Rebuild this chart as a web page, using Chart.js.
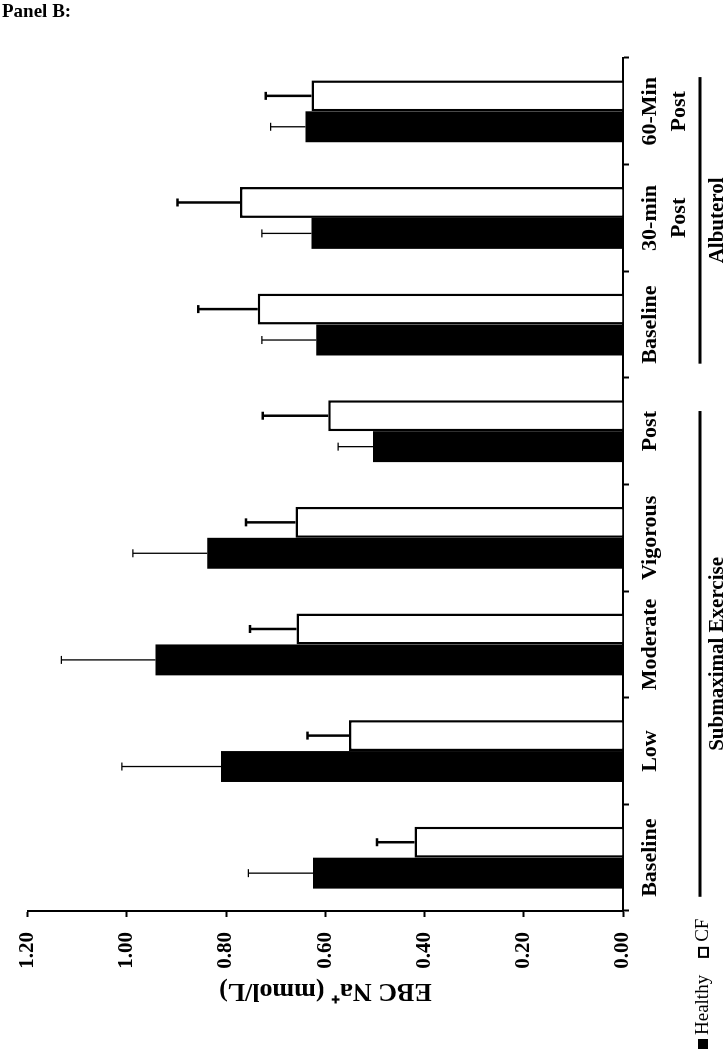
<!DOCTYPE html>
<html>
<head>
<meta charset="utf-8">
<script src="https://cdn.jsdelivr.net/npm/chart.js@4.4.0/dist/chart.umd.min.js"></script>
<style>
  html, body { margin: 0; padding: 0; background: #fff; }
  body { width: 726px; height: 1050px; position: relative; overflow: hidden; }
  #panel { position: absolute; left: 2px; top: 0px; font: bold 19px 'Liberation Serif', 'Times New Roman', serif; color: #000; }
  /* the chart is drawn upright and then turned a quarter turn to the left */
  #wrap { position: absolute; left: 0; top: 0; width: 1050px; height: 726px;
          transform-origin: 0 0; transform: translate(0, 1050px) rotate(-90deg); }
</style>
</head>
<body>
<div id="wrap"><canvas id="chart" width="1050" height="726"></canvas></div>
<div id="panel">Panel B:</div>
<script>
// Data
const categories = ['Baseline', 'Low', 'Moderate', 'Vigorous', 'Post', 'Baseline', ['30-min', 'Post'], ['60-Min', 'Post']];
const healthy = [0.625, 0.81, 0.942, 0.838, 0.504, 0.618, 0.628, 0.64];
const healthyErr = [0.13, 0.20, 0.19, 0.15, 0.07, 0.11, 0.10, 0.07];
const cf = [0.42, 0.552, 0.658, 0.66, 0.594, 0.736, 0.772, 0.628];
const cfErr = [0.076, 0.084, 0.094, 0.10, 0.132, 0.12, 0.126, 0.092];
const yTicks = [0, 0.2, 0.4, 0.6, 0.8, 1.0, 1.2];
const groupNames = ['Submaximal Exercise', 'Albuterol'];
const groupFirst = [0, 5];
const groupLast = [4, 7];
const seriesNames = ['Healthy', 'CF'];
const yTitle = 'EBC Na\u207A (mmol/L)';

const serif = "'Liberation Serif', 'Times New Roman', serif";

// Error bars (upper only)
const errorBars = {
  id: 'errorBars',
  afterDatasetsDraw(chart) {
    const ctx = chart.ctx;
    const yScale = chart.scales.y;
    chart.data.datasets.forEach((ds, di) => {
      const meta = chart.getDatasetMeta(di);
      meta.data.forEach((bar, i) => {
        const top = yScale.getPixelForValue(ds.data[i] + ds.errors[i]);
        ctx.save();
        ctx.strokeStyle = '#000';
        ctx.lineWidth = ds.errWidth;
        ctx.beginPath();
        ctx.moveTo(bar.x, bar.y);
        ctx.lineTo(bar.x, top);
        ctx.moveTo(bar.x - 4, top);
        ctx.lineTo(bar.x + 4, top);
        ctx.stroke();
        ctx.restore();
      });
    });
  }
};

// Group brackets under the category labels, and the small legend
const extras = {
  id: 'extras',
  afterDraw(chart) {
    const ctx = chart.ctx;
    const xScale = chart.scales.x;
    ctx.save();
    ctx.fillStyle = '#000';
    ctx.strokeStyle = '#000';

    // width of a category label (widest line)
    ctx.font = 'bold 22px ' + serif;
    const labelWidth = (i) => {
      const lines = [].concat(categories[i]);
      return Math.max(...lines.map(l => ctx.measureText(l).width));
    };

    groupNames.forEach((name, g) => {
      ctx.font = 'bold 22px ' + serif;
      const x0 = xScale.getPixelForValue(groupFirst[g]) - labelWidth(groupFirst[g]) / 2;
      const x1 = xScale.getPixelForValue(groupLast[g]) + labelWidth(groupLast[g]) / 2;
      ctx.lineWidth = 3;
      ctx.beginPath();
      ctx.moveTo(x0, 700);
      ctx.lineTo(x1, 700);
      ctx.stroke();
      ctx.font = 'bold 21px ' + serif;
      ctx.textAlign = 'center';
      ctx.textBaseline = 'alphabetic';
      ctx.fillText(name, (x0 + x1) / 2, 723);
    });

    // legend
    ctx.font = '19px ' + serif;
    ctx.textAlign = 'left';
    ctx.textBaseline = 'middle';
    let x = 1;
    const ly = 703;
    ctx.fillRect(x, ly - 5, 10, 10);
    x += 14;
    ctx.fillText(seriesNames[0], x, ly);
    x += ctx.measureText(seriesNames[0]).width + 17;
    ctx.lineWidth = 2;
    ctx.strokeRect(x + 1, ly - 4, 9, 9);
    x += 16;
    ctx.fillText(seriesNames[1], x, ly);
    ctx.restore();
  }
};

const ctx = document.getElementById('chart').getContext('2d');
new Chart(ctx, {
  type: 'bar',
  data: {
    labels: categories,
    datasets: [
      { label: seriesNames[0], data: healthy, errors: healthyErr, errWidth: 1.3,
        backgroundColor: '#000', borderWidth: 0 },
      { label: seriesNames[1], data: cf, errors: cfErr, errWidth: 2.5,
        backgroundColor: '#fff', borderColor: '#000', borderWidth: 2.5 }
    ]
  },
  options: {
    responsive: false,
    animation: false,
    categoryPercentage: 0.58,
    barPercentage: 1.0,
    layout: { padding: { top: 23, right: 58, left: 0, bottom: 0 } },
    plugins: { legend: { display: false }, tooltip: { enabled: false } },
    scales: {
      x: {
        grid: { display: true, drawOnChartArea: false, offset: true, tickLength: 6, tickWidth: 2, color: '#000' },
        border: { display: true, color: '#000', width: 2 },
        ticks: { color: '#000', font: { family: serif, size: 22, weight: 'bold', lineHeight: 1.35 },
                 padding: 6, maxRotation: 0, minRotation: 0, autoSkip: false },
        afterFit(s) { s.height = 103; }
      },
      y: {
        min: 0,
        max: 1.2,
        afterBuildTicks(s) { s.ticks = yTicks.map(v => ({ value: v })); },
        ticks: { color: '#000', font: { family: serif, size: 21, weight: 'bold' }, padding: 15,
                 callback: v => v.toFixed(2) },
        grid: { display: true, drawOnChartArea: false, tickLength: 6, tickWidth: 2, color: '#000' },
        border: { display: true, color: '#000', width: 2 },
        title: { display: true, text: yTitle, color: '#000',
                 font: { family: serif, size: 26, weight: 'bold' }, padding: { top: 44, bottom: 0 } },
        afterFit(s) { s.width = 139; }
      }
    }
  },
  plugins: [errorBars, extras]
});
</script>
</body>
</html>
